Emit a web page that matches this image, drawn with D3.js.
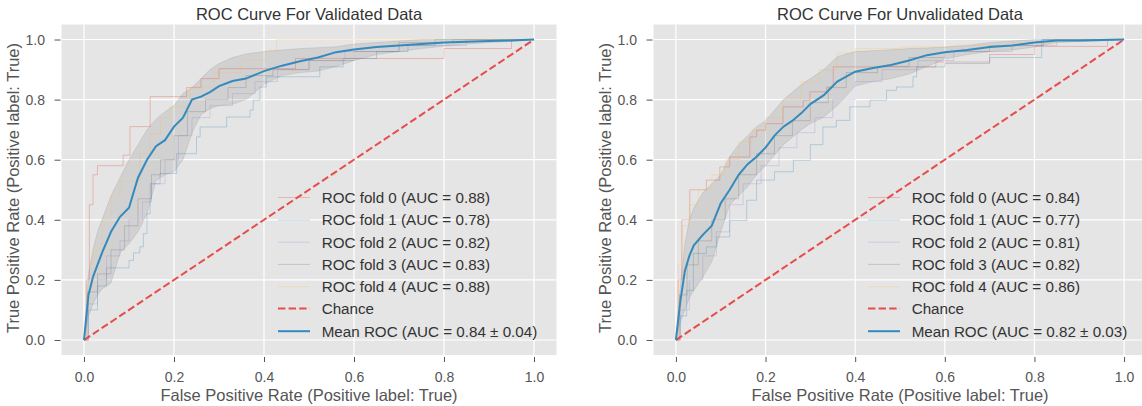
<!DOCTYPE html>
<html>
<head>
<meta charset="utf-8">
<script src="https://cdn.jsdelivr.net/npm/d3@7"></script>
<style>
  body { margin: 0; background: #fff; }
  svg { display: block; font-family: "Liberation Sans", Arial, sans-serif; }
</style>
</head>
<body>
<svg id="chart" width="1142" height="406"></svg>
<script>
// tick values for both axes
var axisTicks = [0, 0.2, 0.4, 0.6, 0.8, 1.0];

// shared fpr grid for the mean curve and the +/- 1 std band
var meanFpr = [0, 0.01, 0.02, 0.03, 0.04, 0.06, 0.08, 0.10, 0.12, 0.14, 0.16, 0.18, 0.20, 0.22, 0.24, 0.26, 0.28, 0.30,
               0.33, 0.36, 0.40, 0.44, 0.48, 0.52, 0.56, 0.60, 0.65, 0.70, 0.75, 0.80, 0.85, 0.90, 0.95, 1.0];

// validated data
var validMean  = [0, 0.15, 0.21, 0.25, 0.29, 0.36, 0.41, 0.44, 0.54, 0.60, 0.645, 0.665, 0.71, 0.74, 0.80, 0.81, 0.825, 0.845,
                  0.862, 0.87, 0.895, 0.913, 0.928, 0.94, 0.958, 0.967, 0.975, 0.98, 0.985, 0.99, 0.993, 0.995, 0.997, 1.0];
var validUpper = [0, 0.22, 0.30, 0.36, 0.40, 0.48, 0.54, 0.60, 0.65, 0.70, 0.735, 0.76, 0.78, 0.82, 0.84, 0.87, 0.90, 0.92,
                  0.94, 0.952, 0.96, 0.965, 0.97, 0.973, 0.976, 0.985, 0.99, 0.995, 1.0, 1.0, 1.0, 1.0, 1.0, 1.0];
var validLower = [0, 0.08, 0.12, 0.15, 0.17, 0.19, 0.29, 0.32, 0.36, 0.42, 0.53, 0.55, 0.56, 0.60, 0.69, 0.75, 0.77, 0.78,
                  0.785, 0.80, 0.85, 0.88, 0.89, 0.895, 0.91, 0.93, 0.95, 0.96, 0.97, 0.978, 0.985, 0.99, 0.994, 1.0];

// each point: [fpr where tpr jumps, new tpr]
var validFold0 = [[0,0],[0.005,0.2],[0.012,0.45],[0.02,0.55],[0.03,0.58],[0.087,0.615],[0.102,0.71],[0.147,0.81],[0.228,0.84],
                  [0.26,0.87],[0.30,0.903],[0.47,0.937],[0.80,0.97],[0.95,1.0],[1,1]];
var validFold1 = [[0,0],[0.01,0.1],[0.03,0.18],[0.05,0.24],[0.10,0.265],[0.11,0.29],[0.124,0.31],[0.132,0.354],[0.14,0.42],
                  [0.147,0.52],[0.169,0.554],[0.206,0.62],[0.25,0.676],[0.258,0.709],[0.317,0.742],[0.369,0.765],[0.376,0.798],
                  [0.391,0.842],[0.405,0.876],[0.524,0.909],[0.576,0.937],[0.65,0.96],[0.72,0.98],[0.78,1.0],[1,1]];
var validFold2 = [[0,0],[0.01,0.12],[0.03,0.2],[0.05,0.28],[0.08,0.33],[0.10,0.4],[0.13,0.46],[0.15,0.52],[0.18,0.6],[0.21,0.68],
                  [0.24,0.74],[0.28,0.78],[0.33,0.82],[0.38,0.86],[0.43,0.9],[0.5,0.93],[0.58,0.96],[0.7,0.98],[0.85,1],[1,1]];
var validFold3 = [[0,0],[0.008,0.16],[0.03,0.22],[0.06,0.3],[0.09,0.38],[0.12,0.47],[0.15,0.55],[0.17,0.6],[0.2,0.68],[0.23,0.76],
                  [0.27,0.8],[0.32,0.84],[0.36,0.88],[0.42,0.9],[0.5,0.93],[0.6,0.96],[0.7,0.99],[0.82,1],[1,1]];
var validFold4 = [[0,0],[0.005,0.18],[0.02,0.3],[0.04,0.4],[0.06,0.48],[0.08,0.53],[0.124,0.62],[0.147,0.687],[0.17,0.74],
                  [0.191,0.776],[0.236,0.842],[0.29,0.89],[0.347,0.931],[0.405,0.964],[0.428,1],[1,1]];
var validAuc = ["0.88", "0.78", "0.82", "0.83", "0.88"];
var validMeanLabel = "Mean ROC (AUC = 0.84 \u00b1 0.04)";

// unvalidated data
var unvalMean  = [0, 0.13, 0.23, 0.28, 0.315, 0.35, 0.38, 0.455, 0.50, 0.55, 0.585, 0.61, 0.64, 0.68, 0.71, 0.73, 0.755, 0.785,
                  0.815, 0.86, 0.893, 0.905, 0.915, 0.93, 0.948, 0.958, 0.965, 0.975, 0.98, 0.99, 0.997, 0.997, 0.998, 1.0];
var unvalUpper = [0, 0.18, 0.32, 0.40, 0.44, 0.49, 0.52, 0.55, 0.61, 0.65, 0.68, 0.71, 0.73, 0.765, 0.80, 0.825, 0.85, 0.87,
                  0.90, 0.943, 0.96, 0.963, 0.966, 0.97, 0.972, 0.975, 0.98, 0.99, 0.995, 1.0, 1.0, 1.0, 1.0, 1.0];
var unvalLower = [0, 0.06, 0.10, 0.14, 0.165, 0.21, 0.26, 0.36, 0.45, 0.48, 0.51, 0.55, 0.58, 0.615, 0.65, 0.675, 0.70, 0.72,
                  0.742, 0.78, 0.845, 0.86, 0.87, 0.885, 0.91, 0.935, 0.95, 0.96, 0.965, 0.975, 0.99, 0.993, 0.995, 1.0];

var unvalFold0 = [[0,0],[0.005,0.2],[0.013,0.4],[0.031,0.5],[0.068,0.532],[0.098,0.576],[0.12,0.609],[0.165,0.676],[0.18,0.698],
                  [0.2,0.72],[0.239,0.776],[0.284,0.798],[0.299,0.826],[0.336,0.842],[0.351,0.909],[0.58,0.925],[0.7,0.95],
                  [0.8,0.977],[0.963,1],[1,1]];
var unvalFold1 = [[0,0],[0.01,0.08],[0.024,0.165],[0.039,0.288],[0.068,0.31],[0.091,0.343],[0.12,0.398],[0.158,0.465],[0.18,0.532],
                  [0.22,0.56],[0.262,0.598],[0.3,0.65],[0.328,0.709],[0.358,0.731],[0.388,0.776],[0.433,0.798],[0.47,0.831],
                  [0.492,0.842],[0.529,0.876],[0.537,0.909],[0.6,0.92],[0.7,0.94],[0.816,1],[1,1]];
var unvalFold2 = [[0,0],[0.01,0.1],[0.03,0.2],[0.06,0.28],[0.09,0.36],[0.12,0.45],[0.15,0.52],[0.19,0.58],[0.23,0.64],[0.27,0.69],
                  [0.31,0.74],[0.35,0.8],[0.4,0.86],[0.46,0.9],[0.54,0.93],[0.62,0.96],[0.75,0.98],[0.85,1],[1,1]];
var unvalFold3 = [[0,0],[0.008,0.15],[0.025,0.25],[0.05,0.33],[0.08,0.4],[0.11,0.47],[0.14,0.55],[0.18,0.62],[0.22,0.68],[0.26,0.73],
                  [0.3,0.79],[0.34,0.84],[0.38,0.89],[0.45,0.91],[0.52,0.94],[0.6,0.96],[0.7,0.98],[0.82,1],[1,1]];
var unvalFold4 = [[0,0],[0.005,0.25],[0.015,0.38],[0.03,0.45],[0.05,0.5],[0.08,0.55],[0.11,0.6],[0.14,0.66],[0.17,0.7],[0.2,0.74],
                  [0.24,0.8],[0.28,0.86],[0.32,0.9],[0.36,0.955],[0.4,0.97],[0.5,0.975],[0.62,0.98],[0.75,0.99],[0.85,1],[1,1]];
var unvalAuc = ["0.84", "0.77", "0.81", "0.82", "0.86"];
var unvalMeanLabel = "Mean ROC (AUC = 0.82 \u00b1 0.03)";

var foldColors = ["#E24A33", "#348ABD", "#988ED5", "#777777", "#FBC15E"];

var panels = [
    { title: "ROC Curve For Validated Data", left: 61.5, right: 556.5,
      folds: [validFold0, validFold1, validFold2, validFold3, validFold4], auc: validAuc,
      mean: validMean, upper: validUpper, lower: validLower, meanLabel: validMeanLabel },
    { title: "ROC Curve For Unvalidated Data", left: 653.5, right: 1146.5,
      folds: [unvalFold0, unvalFold1, unvalFold2, unvalFold3, unvalFold4], auc: unvalAuc,
      mean: unvalMean, upper: unvalUpper, lower: unvalLower, meanLabel: unvalMeanLabel }
];

var plotTop = 24.5, plotBottom = 355;
var svg = d3.select("#chart");

panels.forEach(function(p){
    var x = d3.scaleLinear().domain([-0.05, 1.05]).range([p.left, p.right]);
    var y = d3.scaleLinear().domain([-0.05, 1.05]).range([plotBottom, plotTop]);
    var g = svg.append("g");

    // panel background
    g.append("rect")
        .attr("x", p.left).attr("y", plotTop)
        .attr("width", p.right - p.left).attr("height", plotBottom - plotTop)
        .attr("fill", "#E5E5E5");

    // grid
    g.selectAll(".vgrid").data(axisTicks).enter().append("line")
        .attr("x1", function(d){ return x(d); }).attr("x2", function(d){ return x(d); })
        .attr("y1", plotTop).attr("y2", plotBottom)
        .attr("stroke", "#fff").attr("stroke-width", 1.2);
    g.selectAll(".hgrid").data(axisTicks).enter().append("line")
        .attr("y1", function(d){ return y(d); }).attr("y2", function(d){ return y(d); })
        .attr("x1", p.left).attr("x2", p.right)
        .attr("stroke", "#fff").attr("stroke-width", 1.2);

    // std band
    var area = d3.area()
        .x(function(d, i){ return x(meanFpr[i]); })
        .y0(function(d, i){ return y(p.lower[i]); })
        .y1(function(d, i){ return y(p.upper[i]); });
    g.append("path")
        .datum(p.mean)
        .attr("d", area)
        .attr("fill", "grey").attr("fill-opacity", 0.2)
        .attr("stroke", "grey").attr("stroke-opacity", 0.2).attr("stroke-width", 1);

    // folds
    var step = d3.line()
        .x(function(d){ return x(d[0]); })
        .y(function(d){ return y(d[1]); })
        .curve(d3.curveStepAfter);
    p.folds.forEach(function(fold, i){
        g.append("path")
            .datum(fold)
            .attr("d", step)
            .attr("fill", "none")
            .attr("stroke", foldColors[i]).attr("stroke-opacity", 0.3).attr("stroke-width", 1);
    });

    // chance
    g.append("line")
        .attr("x1", x(0)).attr("y1", y(0)).attr("x2", x(1)).attr("y2", y(1))
        .attr("stroke", "#e8312f").attr("stroke-opacity", 0.85).attr("stroke-width", 2)
        .attr("stroke-dasharray", "7.4,3.2");

    // mean
    var meanLine = d3.line()
        .x(function(d, i){ return x(meanFpr[i]); })
        .y(function(d){ return y(d); });
    g.append("path")
        .datum(p.mean)
        .attr("d", meanLine)
        .attr("fill", "none")
        .attr("stroke", "#348ABD").attr("stroke-width", 2);

    // axes
    var xAxis = g.append("g")
        .attr("transform", "translate(0," + (plotBottom + 2) + ")")
        .call(d3.axisBottom(x).tickValues(axisTicks).tickFormat(d3.format(".1f")).tickSize(5).tickPadding(10.5));
    var yAxis = g.append("g")
        .attr("transform", "translate(" + (p.left - 1) + ",0)")
        .call(d3.axisLeft(y).tickValues(axisTicks).tickFormat(d3.format(".1f")).tickSize(6).tickPadding(9.5));
    [xAxis, yAxis].forEach(function(a){
        a.select(".domain").remove();
        a.selectAll("line").attr("stroke", "#555").attr("stroke-width", 1);
        a.selectAll("text").attr("fill", "#555").style("font-size", "14px");
        a.attr("font-family", null).attr("font-size", null);
    });

    // labels
    var cx = (p.left + p.right) / 2;
    g.append("text")
        .attr("x", cx).attr("y", 20)
        .attr("text-anchor", "middle")
        .attr("fill", "#333").style("font-size", "16.5px")
        .text(p.title);
    g.append("text")
        .attr("x", cx).attr("y", 401)
        .attr("text-anchor", "middle")
        .attr("fill", "#555").style("font-size", "16.5px")
        .text("False Positive Rate (Positive label: True)");
    g.append("text")
        .attr("transform", "translate(" + (p.left - 42.5) + "," + 188 + ") rotate(-90)")
        .attr("text-anchor", "middle")
        .attr("fill", "#555").style("font-size", "16.5px")
        .text("True Positive Rate (Positive label: True)");

    // legend
    var items = p.auc.map(function(a, i){
        return { label: "ROC fold " + i + " (AUC = " + a + ")", color: foldColors[i], op: 0.3, w: 1, dash: null };
    });
    items.push({ label: "Chance", color: "#e8312f", op: 0.85, w: 2, dash: "7.4,3.2" });
    items.push({ label: p.meanLabel, color: "#348ABD", op: 1, w: 2, dash: null });
    var rowY = [197.5, 220, 242.2, 264.4, 286.6, 308.6, 331.2];
    var lg = g.append("g");
    items.forEach(function(it, i){
        var ry = rowY[i];
        lg.append("line")
            .attr("x1", p.right - 278.5).attr("x2", p.right - 246.5)
            .attr("y1", ry).attr("y2", ry)
            .attr("stroke", it.color).attr("stroke-opacity", it.op).attr("stroke-width", it.w)
            .attr("stroke-dasharray", it.dash);
        lg.append("text")
            .attr("x", p.right - 234.8).attr("y", ry + 5.4)
            .attr("fill", "#333").style("font-size", "15.2px")
            .text(it.label);
    });
});
</script>
</body>
</html>
